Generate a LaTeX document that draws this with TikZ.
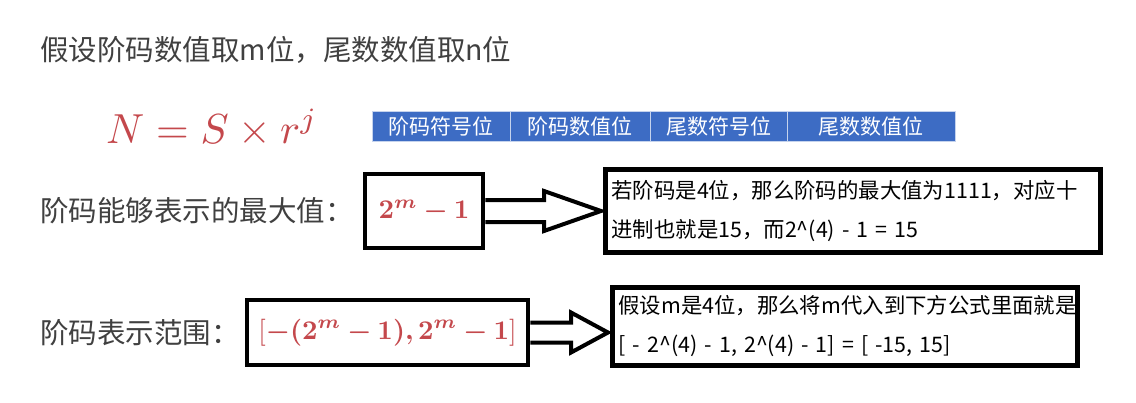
\documentclass[tikz,border=0pt]{standalone}
\usepackage{graphicx}
\usepackage{bm}
\usepackage{fontspec}
\setmainfont{Noto Sans CJK SC}
\usetikzlibrary{calc}
\definecolor{formred}{RGB}{196,72,76}
\definecolor{barblue}{RGB}{61,108,196}
\definecolor{textgrey}{RGB}{64,64,64}

\begin{document}
\begin{tikzpicture}[x=1pt, y=-1pt, every node/.style={inner sep=0pt},
  sidetext/.style={text=textgrey, font=\fontsize{28.5}{32}\selectfont, anchor=west},
  field/.style={fill=barblue, draw=white!70!barblue, line width=1pt, text=white,
    minimum height=30pt, font=\fontsize{21}{24}\selectfont},
  formbox/.style={draw, line width=4.5pt, text=formred},
  notebox/.style={draw, line width=5pt, align=left, inner xsep=6pt,
    font=\fontsize{21.4}{39}\selectfont},
  hollow/.style={draw, line width=4pt, line join=miter}]
  \useasboundingbox (0,0) rectangle (1136,402);

  \node[sidetext] (title) at (40,50) {假设阶码数值取m位，尾数数值取n位};
  \node[text=formred] (formula) at (212,128) {\scalebox{4.2}{$N = S \times r^j$}};

  \node[field, minimum width=138pt] (expsign) at (441,126) {阶码符号位};
  \node[field, minimum width=140pt] (expval) at (580,126) {阶码数值位};
  \node[field, minimum width=137pt] (mantsign) at (718.5,126) {尾数符号位};
  \node[field, minimum width=168pt] (mantval) at (871,126) {尾数数值位};

  \node[sidetext] (maxlabel) at (40,211) {阶码能够表示的最大值：};
  \node[formbox, minimum width=118pt, minimum height=74pt] (maxbox) at (424,211)
    {\scalebox{2.7}{$\bm{2^m-1}$}};
  \node[notebox, minimum width=495pt, minimum height=83pt, text width=483pt] (maxnote) at (853,211)
    {若阶码是4位，那么阶码的最大值为1111，对应十\\进制也就是15，而2\textasciicircum(4) - 1 = 15};

  \node[sidetext] (rnglabel) at (40,333) {阶码表示范围：};
  \node[formbox, minimum width=281pt, minimum height=65pt] (rngbox) at (387.5,332.5)
    {\scalebox{2.7}{$[\bm{-(2^m-1),2^m-1}]$}};
  \node[notebox, minimum width=465pt, minimum height=78pt, text width=453pt] (rngnote) at (845,326.5)
    {假设m是4位，那么将m代入到下方公式里面就是\\{}[ - 2\textasciicircum(4) - 1, 2\textasciicircum(4) - 1] = [ -15, 15]};

  % hollow arrows
  \coordinate (maxtip) at ($(maxbox.east -| maxnote.west)+(-2,0)$);
  \draw[hollow] ($(maxbox.east)+(0,-11)$) -- ($(maxtip)+(-57,-11)$) -- ($(maxtip)+(-57,-20)$)
    -- (maxtip) -- ($(maxtip)+(-57,20)$) -- ($(maxtip)+(-57,11)$) -- ($(maxbox.east)+(0,11)$);
  \coordinate (rngtip) at ($(rngbox.east -| rngnote.west)+(-2,0)$);
  \draw[hollow] ($(rngbox.east)+(0,-10)$) -- ($(rngtip)+(-37,-10)$) -- ($(rngtip)+(-37,-20)$)
    -- (rngtip) -- ($(rngtip)+(-37,20)$) -- ($(rngtip)+(-37,10)$) -- ($(rngbox.east)+(0,10)$);
\end{tikzpicture}
\end{document}
